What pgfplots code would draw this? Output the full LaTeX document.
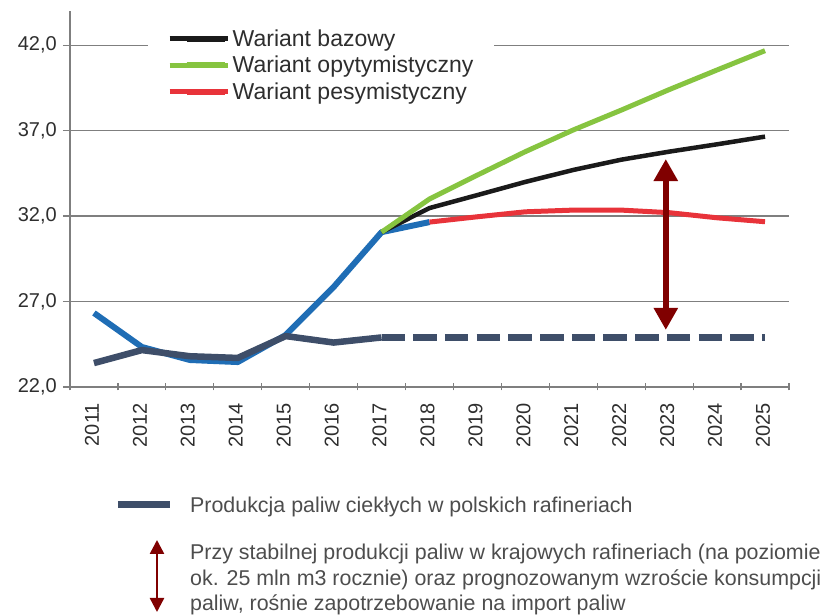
\documentclass[border=0pt]{standalone}
\usepackage{fontspec}
\setmainfont{Liberation Sans}
\usepackage{pgfplots}
\pgfplotsset{compat=1.18}
\usetikzlibrary{arrows.meta}
\definecolor{cblue}{HTML}{1F6DB5}
\definecolor{cslate}{HTML}{3E4E69}
\definecolor{cgreen}{HTML}{86C440}
\definecolor{cred}{HTML}{E8333A}
\definecolor{cblack}{HTML}{1A1A1A}
\definecolor{cdred}{HTML}{800000}
\definecolor{ctext}{HTML}{2E2E2E}
\definecolor{cgrid}{HTML}{7F7F7F}
\begin{document}
\begin{tikzpicture}[x=1pt,y=1pt]
\path[use as bounding box] (-70,-228) rectangle (753,387);
\begin{axis}[
  at={(0,0)}, anchor=south west,
  scale only axis, width=719pt, height=376pt,
  xmin=-0.5, xmax=14.5, ymin=22, ymax=44,
  axis x line=bottom, axis y line=left,
  axis line style={-, draw=cgrid, line width=1.3pt},
  ytick={22,27,32,37,42},
  ymajorgrids, grid style={draw=cgrid, line width=1.3pt},
  ytick align=outside, xtick align=center,
  major tick length=7pt,
  tick style={draw=cgrid, line width=1.2pt},
  xtick={-0.5,0.5,...,14.5}, xticklabels={},
  extra x ticks={0,1,...,14},
  extra x tick labels={2011,2012,2013,2014,2015,2016,2017,2018,2019,2020,2021,2022,2023,2024,2025},
  extra x tick style={major tick length=0pt, xticklabel style={rotate=90, anchor=east, inner sep=0pt, xshift=-16pt, yshift=2pt}},
  /pgf/number format/assume math mode=true,
  /pgf/number format/fixed, /pgf/number format/fixed zerofill,
  /pgf/number format/precision=1, /pgf/number format/use comma,
  yticklabel style={inner sep=0pt, xshift=-6pt},
  tick label style={font=\fontsize{20}{24}\selectfont, text=ctext},
  legend style={at={(0.1085,0.99)}, anchor=north west, fill=white, draw=none,
    font=\fontsize{23}{27}\selectfont, text=ctext, inner xsep=19pt, inner ysep=12.5pt, row sep=4.5pt},
  legend cell align=left,
  legend image code/.code={\path (-10pt,0pt) -- (48.5pt,0pt); \draw[#1, line width=6pt, line cap=butt] (7pt,0pt) -- (45pt,0pt);},
]
\addplot[cblue, line width=6pt, line join=round, forget plot] coordinates {(0,26.33)(1,24.34)(2,23.58)(3,23.46)(4,25.04)(5,27.85)(6,31.06)(7,31.65)};
\addplot[cblack, line width=4.5pt, line join=round] coordinates {(6,31.06)(7,32.47)(8,33.23)(9,34.0)(10,34.7)(11,35.3)(12,35.77)(13,36.2)(14,36.65)};
\addlegendentry{Wariant bazowy}
\addplot[cgreen, line width=5pt, line join=round] coordinates {(6,31.06)(7,33.0)(8,34.4)(9,35.77)(10,37.04)(11,38.2)(12,39.4)(13,40.55)(14,41.68)};
\addlegendentry{Wariant opytymistyczny}
\addplot[cred, line width=5pt, line join=round] coordinates {(7,31.65)(8,31.96)(9,32.25)(10,32.35)(11,32.35)(12,32.2)(13,31.9)(14,31.67)};
\addlegendentry{Wariant pesymistyczny}
\addplot[cslate, line width=6.5pt, line join=round, forget plot] coordinates {(0,23.4)(1,24.16)(2,23.8)(3,23.7)(4,24.98)(5,24.6)(6,24.9)};
\addplot[cslate, line width=6.5pt, dash pattern=on 23.5pt off 8.2pt, forget plot] coordinates {(6,24.9)(14,24.9)};
\addplot[cdred, line width=6pt, {Triangle[width=23pt,length=22pt]}-{Triangle[width=23pt,length=22pt]}, forget plot] coordinates {(11.93,25.34)(11.93,35.34)};
\end{axis}
\draw[cslate, line width=7pt] (48,-118) -- (100,-118);
\node[anchor=base west, inner sep=0pt, font=\fontsize{21.4}{25}\selectfont, text=ctext!85!white] at (120,-125.5) {Produkcja paliw ciekłych w polskich rafineriach};
\draw[cdred, line width=2.5pt, {Triangle[width=14pt,length=14pt]}-{Triangle[width=14pt,length=14pt]}] (87,-153) -- (87,-225);
\node[anchor=base west, inner sep=0pt, font=\fontsize{21.4}{25}\selectfont, text=ctext!85!white] at (120,-172.5) {Przy stabilnej produkcji paliw w krajowych rafineriach (na poziomie};
\node[anchor=base west, inner sep=0pt, font=\fontsize{21.4}{25}\selectfont, text=ctext!85!white] at (120,-198.5) {ok. 25 mln m3 rocznie) oraz prognozowanym wzroście konsumpcji};
\node[anchor=base west, inner sep=0pt, font=\fontsize{21.4}{25}\selectfont, text=ctext!85!white] at (120,-223.5) {paliw, rośnie zapotrzebowanie na import paliw};
\end{tikzpicture}
\end{document}
